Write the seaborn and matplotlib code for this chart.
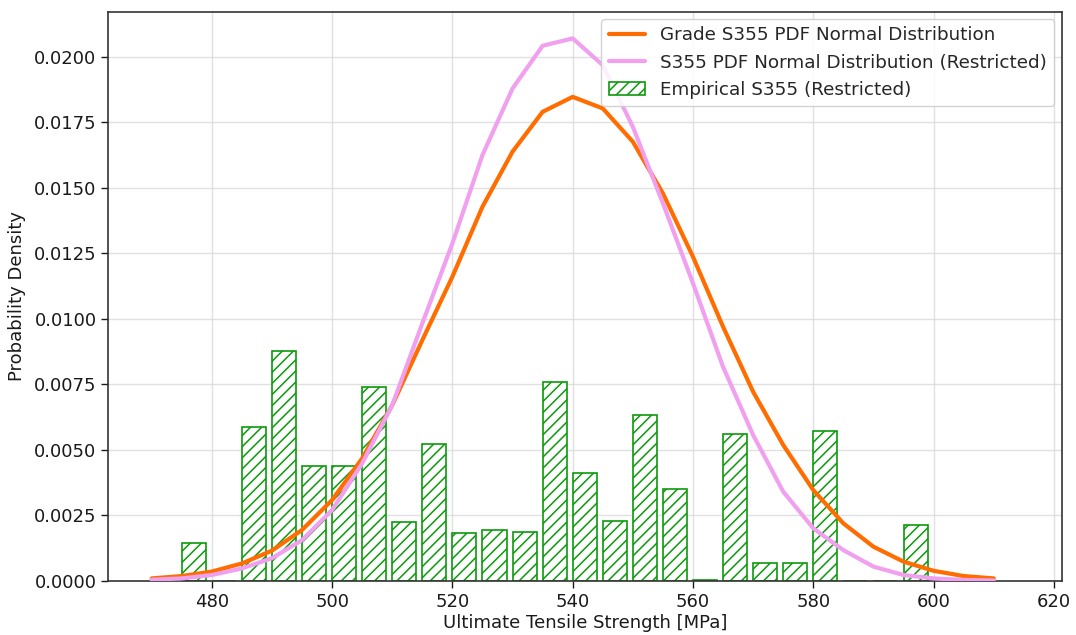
import matplotlib
matplotlib.use("Agg")
import matplotlib.pyplot as plt
import seaborn as sns
import pandas as pd

# Line data: strength grid (MPa) and PDF values
strength = [470, 475, 480, 485, 490, 495, 500, 505, 510, 515, 520, 525, 530, 535,
            540, 545, 550, 555, 560, 565, 570, 575, 580, 585, 590, 595, 600, 605, 610]
pdf_grade = [0.00010, 0.00019, 0.00036, 0.00067, 0.00116, 0.00195, 0.00309, 0.00468,
             0.00671, 0.00919, 0.01161, 0.01428, 0.01638, 0.01790, 0.01847, 0.01803,
             0.01676, 0.01479, 0.01237, 0.00970, 0.00722, 0.00519, 0.00347, 0.00220,
             0.00131, 0.00074, 0.00039, 0.00019, 0.00010]
pdf_restricted = [0.00005, 0.00010, 0.00023, 0.00048, 0.00087, 0.00156, 0.00271, 0.00449,
                  0.00671, 0.00983, 0.01288, 0.01625, 0.01879, 0.02042, 0.02070, 0.01968,
                  0.01733, 0.01441, 0.01136, 0.00817, 0.00557, 0.00341, 0.00201, 0.00118,
                  0.00055, 0.00023, 0.00010, 0.00004, 0.00002]

# Empirical histogram: bin left edges and densities
bin_left = [475, 480, 485, 490, 495, 500, 505, 510, 515, 520, 525, 530, 535, 540,
            545, 550, 555, 560, 565, 570, 575, 580, 585, 590, 595]
emp_density = [0.00144, 0.0, 0.00586, 0.00879, 0.00439, 0.00439, 0.00739, 0.00226,
               0.00523, 0.00182, 0.00195, 0.00188, 0.00758, 0.00413, 0.00228, 0.00632,
               0.00350, 0.00005, 0.00561, 0.00067, 0.00067, 0.00574, 0.0, 0.0, 0.00215]

sns.set_theme(style="ticks")
plt.rcParams['font.family'] = ['DejaVu Sans']
plt.rcParams['hatch.linewidth'] = 1.1

fig = plt.figure(figsize=(10.76, 6.35), dpi=100)
ax = fig.add_axes([0.1007, 0.085, 0.886, 0.8966])

df = pd.DataFrame({"x": strength, "grade": pdf_grade, "restr": pdf_restricted})

ax.bar(bin_left, emp_density, width=4, align='edge', facecolor='white',
       edgecolor='#0c9a0c', hatch='///', linewidth=1.2,
       label='Empirical S355 (Restricted)', zorder=2)
sns.lineplot(data=df, x="x", y="grade", ax=ax, color='#ff6c00', linewidth=3,
             label='Grade S355 PDF Normal Distribution', zorder=3)
sns.lineplot(data=df, x="x", y="restr", ax=ax, color='#f0a0ee', linewidth=3,
             label='S355 PDF Normal Distribution (Restricted)', zorder=3)

ax.set_xlim(462.8, 621.3)
ax.set_ylim(0, 0.02172)
ax.set_xticks([480, 500, 520, 540, 560, 580, 600, 620])
ax.set_yticks([0.0, 0.0025, 0.005, 0.0075, 0.01, 0.0125, 0.015, 0.0175, 0.02])
ax.set_yticklabels([f"{v:.4f}" for v in ax.get_yticks()])
ax.grid(True, color='#d9d9d9', linewidth=1.0, alpha=0.8, zorder=0)
ax.set_axisbelow(True)
for s in ax.spines.values():
    s.set_color('#333333')
    s.set_linewidth(1.2)
ax.tick_params(labelsize=13, colors='#1a1a1a', length=5, width=1.0)
ax.set_xlabel('Ultimate Tensile Strength [MPa]', fontsize=13, color='#1a1a1a', labelpad=2)
ax.set_ylabel('Probability Density', fontsize=13, color='#1a1a1a', labelpad=6)

handles, labels = ax.get_legend_handles_labels()
order = [labels.index('Grade S355 PDF Normal Distribution'),
         labels.index('S355 PDF Normal Distribution (Restricted)'),
         labels.index('Empirical S355 (Restricted)')]
ax.legend([handles[i] for i in order], [labels[i] for i in order],
          loc='upper right', fontsize=13.2, frameon=True, framealpha=0.85,
          borderaxespad=0.4, handlelength=2.0)

fig.savefig('out.png', dpi=100)
